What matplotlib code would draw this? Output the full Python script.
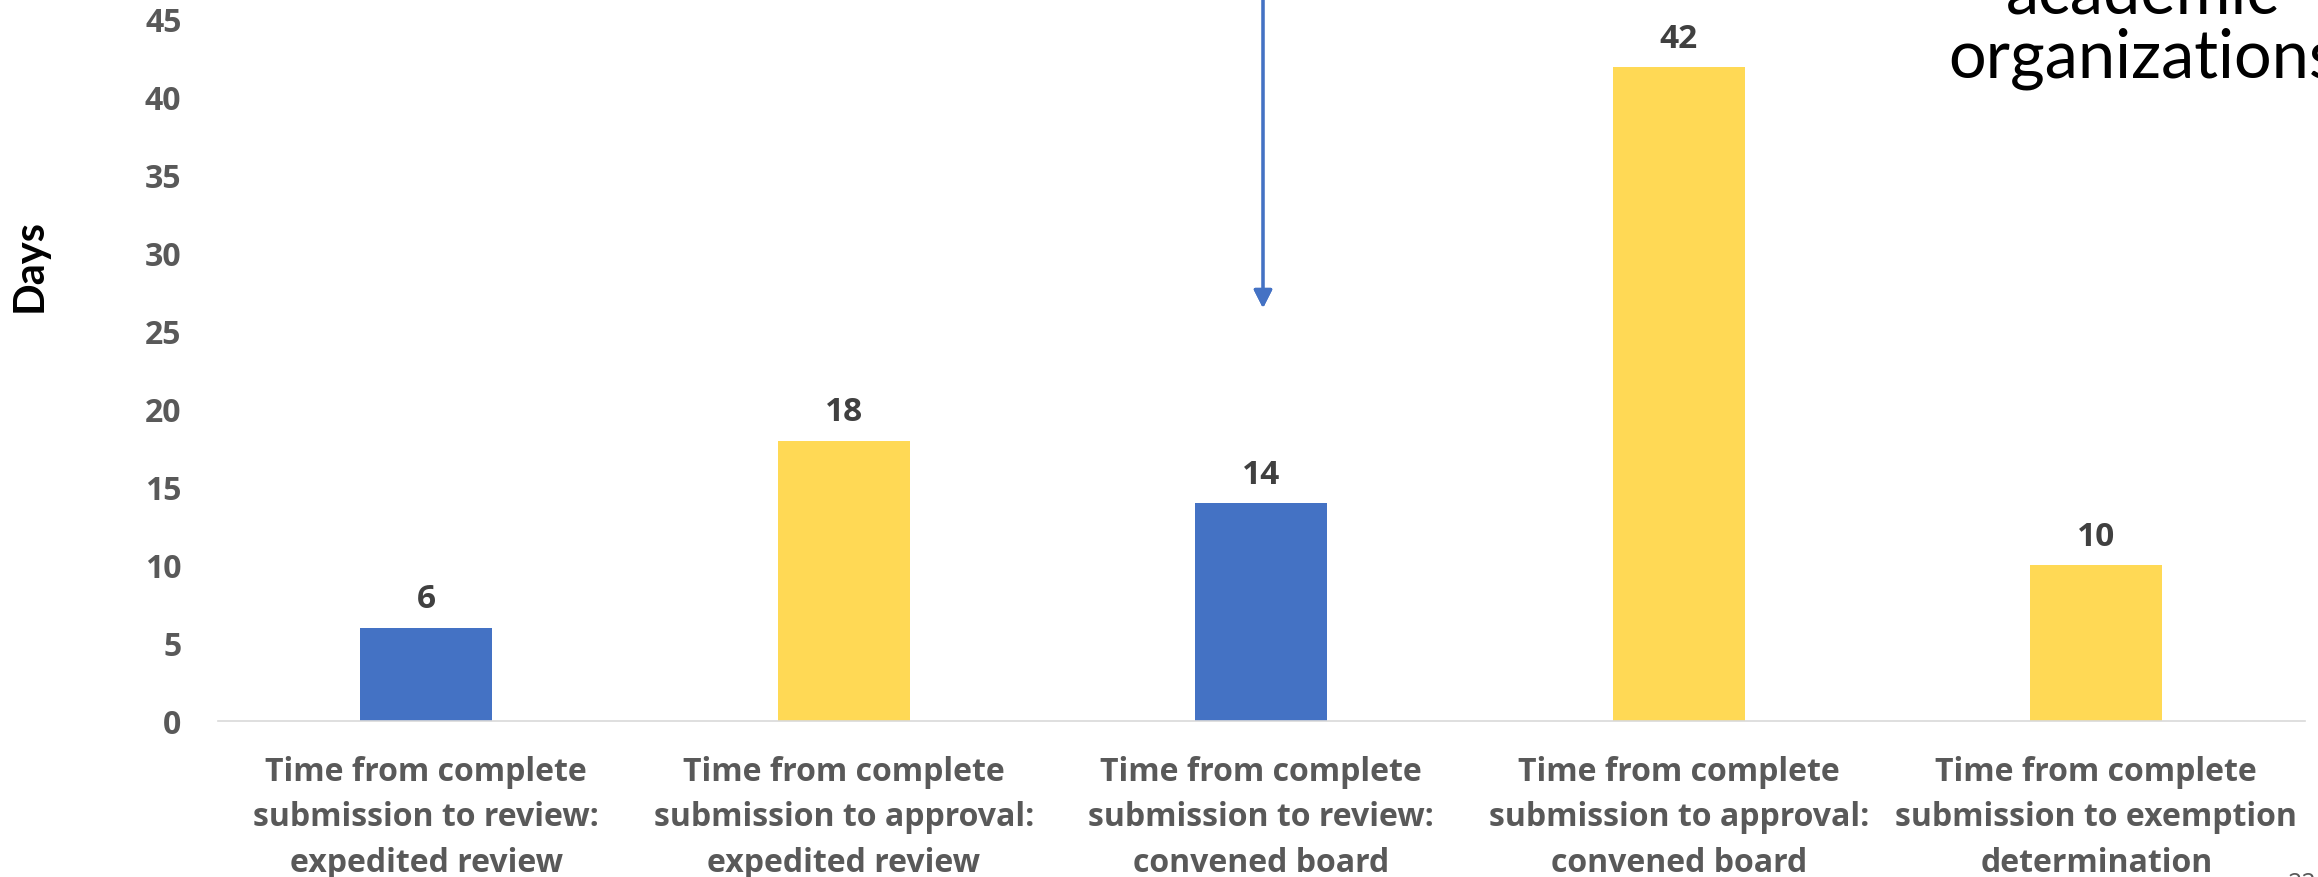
import matplotlib.pyplot as plt

# review timing data (days)
categories = [
    "Time from complete\nsubmission to review:\nexpedited review",
    "Time from complete\nsubmission to approval:\nexpedited review",
    "Time from complete\nsubmission to review:\nconvened board",
    "Time from complete\nsubmission to approval:\nconvened board",
    "Time from complete\nsubmission to exemption\ndetermination",
]
days = [6, 18, 14, 42, 10]
bar_colors = ["#4472C4", "#FFD955", "#4472C4", "#FFD955", "#FFD955"]
y_ticks = [0, 5, 10, 15, 20, 25, 30, 35, 40, 45]

W, H = 2318, 877
DPI = 100


def fig_xy(x, y):
    # pixel position (from top-left) -> figure fraction
    return x / W, 1 - y / H


fig = plt.figure(figsize=(W / DPI, H / DPI), dpi=DPI)
left, top = fig_xy(217.5, 20)
right, bottom = fig_xy(2305, 721)
ax = fig.add_axes([left, bottom, right - left, top - bottom])

x = list(range(len(categories)))
bars = ax.bar(x, days, width=0.315, color=bar_colors)
ax.bar_label(bars, padding=8, fontsize=24, fontweight="bold",
             family="Open Sans", color="#404040")

ax.set_xlim(-0.5, len(categories) - 0.5)
ax.set_ylim(0, 45)
ax.set_yticks(y_ticks)
ax.set_xticks(x)
ax.set_xticklabels(categories, fontsize=23, fontweight="bold",
                   family="Open Sans", color="#595959", linespacing=1.5)
for lbl in ax.get_yticklabels():
    lbl.set_fontsize(23)
    lbl.set_fontweight("bold")
    lbl.set_family("Open Sans")
    lbl.set_color("#595959")
ax.tick_params(axis="x", length=0, pad=25)
ax.tick_params(axis="y", length=0, pad=26)

for side in ["top", "right", "left"]:
    ax.spines[side].set_visible(False)
ax.spines["bottom"].set_color("#D9D9D9")
ax.spines["bottom"].set_linewidth(1.2)

# axis title
fig.text(*fig_xy(30, 265), "Days", rotation=90, ha="center", va="center",
         fontsize=30, fontweight="bold", family="Lato", color="black")

# callout arrow from above
fig.add_artist(plt.annotate(
    "", xy=fig_xy(1263, 308), xytext=fig_xy(1263, -5),
    xycoords="figure fraction", textcoords="figure fraction",
    arrowprops=dict(arrowstyle="-|>,head_length=0.55,head_width=0.28",
                    mutation_scale=20, color="#4472C4", lw=2.2,
                    shrinkA=0, shrinkB=0),
))

# slide text at top right
fig.text(*fig_xy(2143, 13), "academic", ha="center", va="baseline",
         fontsize=48, family="Lato", color="black")
fig.text(*fig_xy(2143, 77), "organizations", ha="center", va="baseline",
         fontsize=48, family="Lato", color="black")

# slide number
fig.text(*fig_xy(2288, 872), "22", ha="left", va="top",
         fontsize=18, family="Open Sans", color="#595959")

fig.savefig("out.png", dpi=DPI)
